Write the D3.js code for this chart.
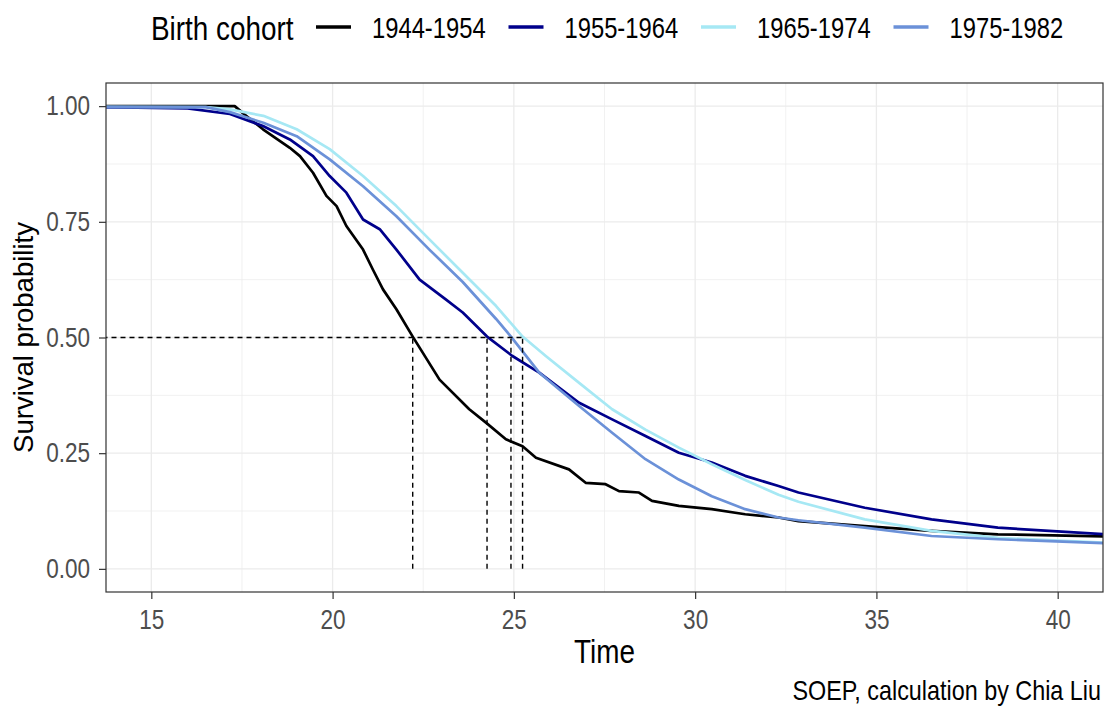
<!DOCTYPE html>
<html>
<head>
<meta charset="utf-8">
<script src="https://cdn.jsdelivr.net/npm/d3@7"></script>
<style>
body{margin:0;background:#fff}
</style>
</head>
<body>
<div id="root"></div>
<script>
// survival curves by birth cohort
const cohorts = ["1944-1954","1955-1964","1965-1974","1975-1982"]

const time_1944 = [0,17.0,17.3,17.6,18.08,18.82,19.10,19.46,19.83,20.11,20.38,20.84,21.11,21.39,21.76,22.21,22.95,23.77,24.23,24.78,25.24,25.61,26.52,26.98,27.53,27.90,28.45,28.81,29.55,30.46,31.38,32.30,32.85,34.68,36.51,38.35,41.5]
const surv_1944 = [1,1,1,0.98,0.950,0.910,0.892,0.856,0.806,0.784,0.741,0.690,0.647,0.604,0.561,0.502,0.409,0.345,0.316,0.280,0.265,0.240,0.215,0.186,0.183,0.168,0.165,0.147,0.136,0.129,0.118,0.111,0.103,0.0925,0.082,0.0746,0.070]

const time_1955 = [0,14.6,16.0,17.17,18.08,18.82,19.46,19.92,20.38,20.84,21.30,21.76,22.40,23.13,23.59,24.26,24.96,25.70,26.80,27.71,28.63,29.55,30.46,31.38,32.30,32.85,34.68,36.52,38.35,41.5]
const surv_1955 = [1,0.997,0.995,0.983,0.957,0.928,0.892,0.849,0.813,0.755,0.734,0.690,0.625,0.582,0.554,0.502,0.460,0.424,0.359,0.323,0.287,0.251,0.230,0.201,0.179,0.165,0.132,0.107,0.089,0.074]

const time_1965 = [0,16.5,17.17,18.09,19.01,19.92,20.84,21.76,22.67,23.59,24.51,25.24,25.88,26.80,27.71,28.63,29.55,30.46,31.38,32.30,32.85,34.68,36.52,38.35,41.5]
const surv_1965 = [1,0.998,0.993,0.979,0.950,0.907,0.849,0.784,0.712,0.640,0.568,0.502,0.460,0.402,0.345,0.301,0.262,0.226,0.192,0.160,0.145,0.107,0.082,0.067,0.056]

const time_1975 = [0,16.5,17.17,18.09,19.01,19.92,20.84,21.76,22.67,23.59,24.51,24.92,25.70,26.80,27.71,28.63,29.55,30.46,31.38,32.30,32.85,34.68,36.52,38.35,41.5]
const surv_1975 = [1,0.998,0.987,0.964,0.935,0.885,0.827,0.762,0.690,0.620,0.540,0.502,0.424,0.352,0.294,0.237,0.193,0.157,0.129,0.111,0.105,0.089,0.071,0.064,0.055]

// median survival times (dashed lines)
const medians = [22.21,24.26,25.24,24.92]

const xTicks = [15,20,25,30,35,40]
const xMinor = [17.5,22.5,27.5,32.5,37.5]
const yTicks = [0,0.25,0.5,0.75,1]
const yMinor = [0.125,0.375,0.625,0.875]

const colors = ["#000000","#00008b","#a6e8f4","#6b91d8"]
const font = "'Liberation Sans',Arial,sans-serif"
// the reference text is a narrow face, no narrow font here so squeeze it
const squeeze = 0.82

const panel = {left:106,top:83,right:1103,bottom:592}

function condense(sel) {
    sel.each(function(){
        let t = d3.select(this)
        let tx = +t.attr("x") || 0
        let ty = +t.attr("y") || 0
        t.attr("x",0).attr("y",0)
            .attr("transform","translate("+tx+","+ty+") scale("+squeeze+",1)")
    })
}

const svg = d3.select("#root").append("svg")
    .attr("width",1106)
    .attr("height",707)
    .style("display","block")
    .style("font-family",font)

const x = d3.scaleLinear().domain([13.75,41.25]).range([panel.left,panel.right])
const y = d3.scaleLinear().domain([-0.05,1.05]).range([panel.bottom,panel.top])

svg.append("clipPath").attr("id","clip")
    .append("rect")
    .attr("x",panel.left)
    .attr("y",panel.top)
    .attr("width",panel.right-panel.left)
    .attr("height",panel.bottom-panel.top)

const plot = svg.append("g").attr("clip-path","url(#clip)")

// grid
plot.selectAll(".xminor").data(xMinor).join("line")
    .attr("x1",d=>x(d)).attr("x2",d=>x(d))
    .attr("y1",panel.top).attr("y2",panel.bottom)
    .attr("stroke","#ebebeb").attr("stroke-width",0.7)
plot.selectAll(".yminor").data(yMinor).join("line")
    .attr("y1",d=>y(d)).attr("y2",d=>y(d))
    .attr("x1",panel.left).attr("x2",panel.right)
    .attr("stroke","#ebebeb").attr("stroke-width",0.7)
plot.selectAll(".xmajor").data(xTicks).join("line")
    .attr("x1",d=>x(d)).attr("x2",d=>x(d))
    .attr("y1",panel.top).attr("y2",panel.bottom)
    .attr("stroke","#ebebeb").attr("stroke-width",1.3)
plot.selectAll(".ymajor").data(yTicks).join("line")
    .attr("y1",d=>y(d)).attr("y2",d=>y(d))
    .attr("x1",panel.left).attr("x2",panel.right)
    .attr("stroke","#ebebeb").attr("stroke-width",1.3)

// curves
const times = [time_1944,time_1955,time_1965,time_1975]
const survs = [surv_1944,surv_1955,surv_1965,surv_1975]
const series = cohorts.map((c,i)=>({
    cohort:c,
    color:colors[i],
    values:times[i].map((t,j)=>({t:t,s:survs[i][j]}))
}))

const line = d3.line().x(d=>x(d.t)).y(d=>y(d.s))

plot.selectAll(".curve").data(series).join("path")
    .attr("d",d=>line(d.values))
    .attr("fill","none")
    .attr("stroke",d=>d.color)
    .attr("stroke-width",2.7)
    .attr("stroke-linejoin","round")

// median lines
plot.append("line")
    .attr("x1",x(0)).attr("x2",x(d3.max(medians)))
    .attr("y1",y(0.5)).attr("y2",y(0.5))
    .attr("stroke","black").attr("stroke-width",1.4)
    .attr("stroke-dasharray","5,4")
plot.selectAll(".med").data(medians).join("line")
    .attr("x1",d=>x(d)).attr("x2",d=>x(d))
    .attr("y1",y(0)).attr("y2",y(0.5))
    .attr("stroke","black").attr("stroke-width",1.4)
    .attr("stroke-dasharray","5,4")

// border
svg.append("rect")
    .attr("x",panel.left).attr("y",panel.top)
    .attr("width",panel.right-panel.left)
    .attr("height",panel.bottom-panel.top)
    .attr("fill","none")
    .attr("stroke","#333333")
    .attr("stroke-width",1.2)

// axes
const xAxis = svg.append("g")
    .attr("transform","translate(0,"+panel.bottom+")")
    .call(d3.axisBottom(x).tickValues(xTicks).tickSize(7).tickPadding(10))
const yAxis = svg.append("g")
    .attr("transform","translate("+panel.left+",0)")
    .call(d3.axisLeft(y).tickValues(yTicks).tickFormat(d3.format(".2f")).tickSize(7).tickPadding(9))

;[xAxis,yAxis].forEach(ax=>{
    ax.select(".domain").remove()
    ax.selectAll(".tick line").attr("stroke","#333333").attr("stroke-width",1.2)
    ax.selectAll(".tick text")
        .attr("fill","#4d4d4d")
        .style("font-family",font)
        .style("font-size","27.5px")
        .call(condense)
})

// axis titles
svg.append("text")
    .attr("x",(panel.left+panel.right)/2)
    .attr("y",663)
    .attr("text-anchor","middle")
    .style("font-size","34px")
    .text("Time")
    .call(condense)
svg.append("text")
    .attr("transform","translate(33,"+(panel.top+panel.bottom)/2+") rotate(-90)")
    .attr("text-anchor","middle")
    .style("font-size","27.5px")
    .text("Survival probability")

// caption
svg.append("text")
    .attr("x",1101)
    .attr("y",700)
    .attr("text-anchor","end")
    .style("font-size","28.5px")
    .text("SOEP, calculation by Chia Liu")
    .call(condense)

// legend
const legend = svg.append("g")
legend.append("text")
    .attr("x",151)
    .attr("y",40)
    .style("font-size","34px")
    .text("Birth cohort")
    .call(condense)

const items = legend.selectAll(".item").data(series).join("g")
    .attr("transform",(d,i)=>"translate("+(316+i*192.5)+",27)")
items.append("line")
    .attr("x1",0).attr("x2",35)
    .attr("stroke",d=>d.color)
    .attr("stroke-width",3.3)
items.append("text")
    .attr("x",56)
    .attr("y",11)
    .style("font-size","29px")
    .text(d=>d.cohort)
    .call(condense)
</script>
</body>
</html>
